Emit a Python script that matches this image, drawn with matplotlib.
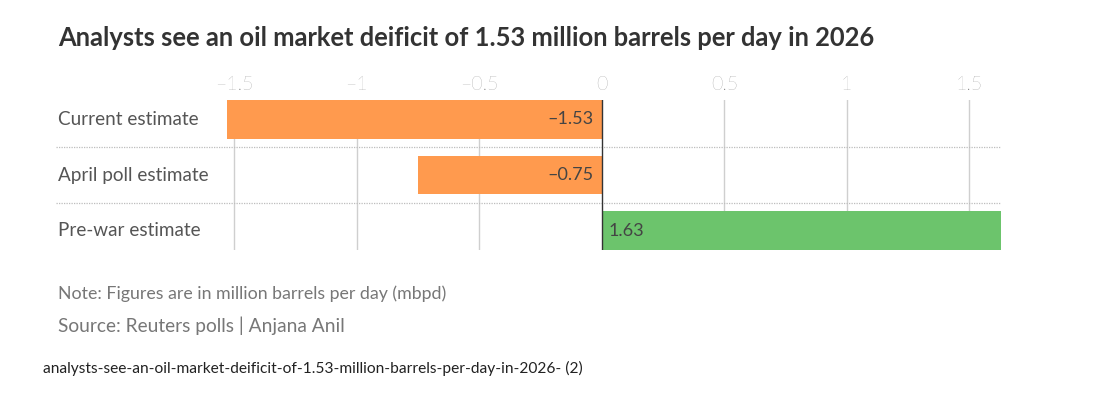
import matplotlib
matplotlib.use("Agg")
import matplotlib.pyplot as plt

# data
categories = ["Current estimate", "April poll estimate", "Pre-war estimate"]
values = [-1.53, -0.75, 1.63]
ticks = [-1.5, -1, -0.5, 0, 0.5, 1, 1.5]
tick_labels = ["\u20131.5", "\u20131", "\u20130.5", "0", "0.5", "1", "1.5"]

title = "Analysts see an oil market deificit of 1.53 million barrels per day in 2026"
note = "Note: Figures are in million barrels per day (mbpd)"
source = "Source: Reuters polls | Anjana Anil"
footer = "analysts-see-an-oil-market-deificit-of-1.53-million-barrels-per-day-in-2026- (2)"

ORANGE = "#ff9a4e"
GREEN = "#6cc46c"

plt.rcParams["font.family"] = ["Lato", "DejaVu Sans"]

fig = plt.figure(figsize=(11.2, 4), dpi=100)
ax = fig.add_axes([227 / 1120, 150 / 400, 774 / 1120, 150 / 400])

colors = [GREEN if v > 0 else ORANGE for v in values]
ypos = list(range(len(categories)))
ax.barh(ypos, values, height=0.7, color=colors, zorder=3)

ax.set_xlim(min(values), max(values))
ax.set_ylim(len(categories) - 1 + 0.35, -0.35)

# vertical grid
for t in ticks:
    if t != 0:
        ax.axvline(t, color="#cfcfcf", lw=1, zorder=1)
ax.axvline(0, color="#333333", lw=1, zorder=4)

# dotted row separators, extended under the labels
for i in range(len(categories) - 1):
    ax.axhline(i + 0.5, xmin=-0.221, xmax=1, color="#bdbdbd", lw=0.9,
               ls=(0, (1, 1)), clip_on=False, zorder=2)

ax.set_xticks(ticks)
ax.set_xticklabels(tick_labels)
ax.xaxis.tick_top()
ax.tick_params(axis="x", length=0, pad=4, labelsize=14, labelcolor="#7a7a7a")
for lab in ax.get_xticklabels():
    lab.set_fontweight("light")
ax.set_yticks([])
for s in ax.spines.values():
    s.set_visible(False)

# category labels
for i, c in enumerate(categories):
    fig.text(58 / 1120, 1 - (119.5 + i * 55.5) / 400, c, ha="left", va="center",
             fontsize=13.6, color="#555555")

# value labels
for i, v in enumerate(values):
    txt = f"{v:.2f}".replace("-", "\u2013")
    if v < 0:
        ax.annotate(txt, (0, i), xytext=(-6, 0), textcoords="offset points",
                    ha="right", va="center", fontsize=13, color="#444444", zorder=5)
    else:
        ax.annotate(txt, (0, i), xytext=(5, 0), textcoords="offset points",
                    ha="left", va="center", fontsize=13, color="#444444", zorder=5)

fig.text(58 / 1120, 1 - 38 / 400, title, ha="left", va="center",
         fontsize=18.4, fontweight="bold", color="#333333")
fig.text(58 / 1120, 1 - 294 / 400, note, ha="left", va="center",
         fontsize=12.8, color="#777777")
fig.text(58 / 1120, 1 - 326 / 400, source, ha="left", va="center",
         fontsize=13.8, color="#777777")
fig.text(43 / 1120, 1 - 368 / 400, footer, ha="left", va="center",
         fontsize=11.2, color="#222222")

fig.savefig("out.png", dpi=100)
